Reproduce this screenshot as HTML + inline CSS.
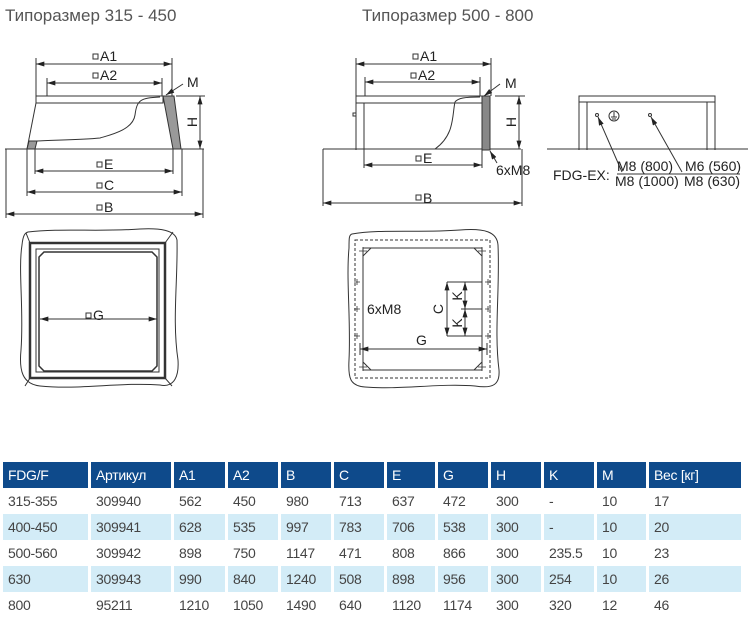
<!DOCTYPE html>
<html><head><meta charset="utf-8"><style>
body{margin:0;background:#fff;width:751px;height:628px;overflow:hidden;font-family:"Liberation Sans",sans-serif}
svg{position:absolute;left:0;top:0}
table{position:absolute;left:3px;top:462px;border-collapse:separate;border-spacing:0;font-family:"Liberation Sans Narrow","Liberation Sans",sans-serif;font-size:14px;color:#444}
td{height:26px;padding:0 0 0 5px;box-sizing:border-box;border-right:3px solid #fff;white-space:nowrap;letter-spacing:-0.3px}
tr.h td{background:#0e4a8b;color:#fff;height:26px}
tr.b td{background:#d3ecf7}
</style></head><body>
<svg width="751" height="460" viewBox="0 0 751 460" font-family="Liberation Sans, sans-serif">
<defs><marker id="a" viewBox="0 0 10 6" refX="10" refY="3" markerWidth="9" markerHeight="5" orient="auto-start-reverse"><path d="M0,0L10,3L0,6z" fill="#222"/></marker></defs>
<g fill="#555" font-size="17"><text x="5" y="21">Типоразмер 315 - 450</text><text x="362" y="21">Типоразмер 500 - 800</text></g>
<g stroke="#333" stroke-width="1" fill="none">
<line x1="5" y1="149" x2="204" y2="149"/>
<rect x="36" y="96" width="127" height="7"/>
<path d="M36,103L27,149"/>
<path d="M163,96L174,96L181,149L173,149Z" fill="#999"/>
<path d="M27,149L35,149L37,141L29,141Z" fill="#999"/>
<path d="M160,97C140,98 137,100 135,115C133,130 110,135 100,138C80,140 50,140 37,141"/>
<line x1="36" y1="58" x2="36" y2="96"/><line x1="172" y1="58" x2="172" y2="96"/>
<line x1="47" y1="78" x2="47" y2="96"/><line x1="162" y1="78" x2="162" y2="96"/>
<line x1="36" y1="64" x2="172" y2="64" marker-start="url(#a)" marker-end="url(#a)"/>
<line x1="47" y1="83" x2="162" y2="83" marker-start="url(#a)" marker-end="url(#a)"/>
<line x1="176" y1="96" x2="205" y2="96"/>
<line x1="200" y1="96" x2="200" y2="149" marker-start="url(#a)" marker-end="url(#a)"/>
<line x1="183" y1="84" x2="166" y2="95" marker-end="url(#a)"/>
<line x1="27" y1="149" x2="27" y2="196"/><line x1="35" y1="149" x2="35" y2="174"/>
<line x1="173" y1="149" x2="173" y2="174"/><line x1="182" y1="149" x2="182" y2="196"/>
<line x1="6" y1="149" x2="6" y2="218"/><line x1="203" y1="149" x2="203" y2="218"/>
<line x1="35" y1="171" x2="173" y2="171" marker-start="url(#a)" marker-end="url(#a)"/>
<line x1="27" y1="192" x2="182" y2="192" marker-start="url(#a)" marker-end="url(#a)"/>
<line x1="6" y1="214" x2="203" y2="214" marker-start="url(#a)" marker-end="url(#a)"/>
<line x1="323" y1="149" x2="521" y2="149"/>
<rect x="356" y="96" width="126" height="7"/>
<path d="M356,103V150M364,103V150"/>
<rect x="353" y="113" width="3" height="3"/>
<rect x="482" y="96" width="8" height="54" fill="#888"/>
<path d="M480,97C465,97 458,98 455,102C452,115 455,135 435,149"/>
<line x1="356" y1="58" x2="356" y2="96"/><line x1="491" y1="58" x2="491" y2="96"/>
<line x1="365" y1="77" x2="365" y2="96"/><line x1="480" y1="77" x2="480" y2="96"/>
<line x1="356" y1="64" x2="491" y2="64" marker-start="url(#a)" marker-end="url(#a)"/>
<line x1="365" y1="82" x2="480" y2="82" marker-start="url(#a)" marker-end="url(#a)"/>
<line x1="495" y1="96" x2="525" y2="96"/>
<line x1="519" y1="96" x2="519" y2="149" marker-start="url(#a)" marker-end="url(#a)"/>
<line x1="500" y1="84" x2="484" y2="96" marker-end="url(#a)"/>
<line x1="364" y1="149" x2="364" y2="168"/><line x1="482" y1="149" x2="482" y2="168"/>
<line x1="364" y1="165" x2="482" y2="165" marker-start="url(#a)" marker-end="url(#a)"/>
<line x1="497" y1="163" x2="490" y2="151" marker-end="url(#a)"/>
<line x1="323" y1="149" x2="323" y2="206"/><line x1="522" y1="149" x2="522" y2="206"/>
<line x1="323" y1="203" x2="522" y2="203" marker-start="url(#a)" marker-end="url(#a)"/>
<line x1="547" y1="149" x2="748" y2="149"/>
<rect x="579" y="96" width="136" height="6"/>
<path d="M579,102V150M587,102V150M707,102V150M715,102V150"/>
<circle cx="597" cy="115" r="1.5"/><circle cx="650" cy="115" r="1.5"/>
<circle cx="614" cy="116" r="5"/><path d="M614,112V117M611,117H617M612,119H616"/>
<line x1="622" y1="172" x2="598" y2="117" marker-end="url(#a)"/>
<line x1="682" y1="172" x2="651" y2="117" marker-end="url(#a)"/>
<line x1="617" y1="174" x2="740" y2="174"/>
<path d="M28,232C60,228 100,232 140,229C160,228 175,230 177,240C178,280 172,320 178,360C179,375 175,388 160,385C120,382 80,390 40,386C22,384 19,370 21,350C24,310 18,270 22,245C23,235 25,233 28,232Z"/>
<rect x="30" y="243" width="135" height="135" stroke-width="2.5"/>
<rect x="36" y="249" width="123" height="123"/>
<path d="M44,252H152L157,257V366L152,371H44L39,366V257Z" stroke-width="1.5"/>
<path d="M30,243L26,233M165,243L173,232M30,378L25,386M165,378L172,386"/>
<line x1="40" y1="319" x2="157" y2="319" marker-start="url(#a)" marker-end="url(#a)"/>
<path d="M352,234C380,229 420,233 460,230C485,228 497,232 498,245C500,290 494,330 499,370C500,384 494,389 475,386C440,383 400,390 365,387C350,386 348,378 349,360C351,320 346,280 349,248C349,238 349,235 352,234Z"/>
<rect x="355" y="240" width="135" height="138" stroke-dasharray="3,2"/>
<rect x="363" y="248" width="119" height="122"/>
<path d="M363,256L371,248M474,248L482,256M363,362L371,370M474,370L482,362"/>
<g stroke-width="0.8"><path d="M359,251h8M363,247v8M478,251h8M482,247v8M359,367h8M363,363v8M478,367h8M482,363v8M354,282h6M357,279v6M354,309h6M357,306v6M354,336h6M357,333v6M485,282h6M488,279v6M485,309h6M488,306v6M485,336h6M488,333v6"/></g>
<path d="M447,282H482M461,309H482M447,336H482"/>
<line x1="447" y1="282" x2="447" y2="336" marker-start="url(#a)" marker-end="url(#a)"/>
<line x1="465" y1="282" x2="465" y2="309" marker-start="url(#a)" marker-end="url(#a)"/>
<line x1="465" y1="309" x2="465" y2="336" marker-start="url(#a)" marker-end="url(#a)"/>
<line x1="360" y1="343" x2="360" y2="355"/><line x1="487" y1="343" x2="487" y2="355"/>
<line x1="360" y1="349" x2="487" y2="349" marker-start="url(#a)" marker-end="url(#a)"/>
</g>
<g fill="#222" font-size="14">
<rect x="93" y="54" width="5" height="5" fill="none" stroke="#333"/><text x="100" y="61">A1</text>
<rect x="93" y="73" width="5" height="5" fill="none" stroke="#333"/><text x="100" y="80">A2</text>
<text x="187" y="87">M</text>
<text transform="translate(197,122) rotate(-90)" text-anchor="middle">H</text>
<rect x="97" y="162" width="5" height="5" fill="none" stroke="#333"/><text x="104" y="169">E</text>
<rect x="97" y="183" width="5" height="5" fill="none" stroke="#333"/><text x="104" y="190">C</text>
<rect x="97" y="205" width="5" height="5" fill="none" stroke="#333"/><text x="104" y="212">B</text>
<rect x="413" y="54" width="5" height="5" fill="none" stroke="#333"/><text x="420" y="61">A1</text>
<rect x="411" y="73" width="5" height="5" fill="none" stroke="#333"/><text x="418" y="80">A2</text>
<text x="505" y="88">M</text>
<text transform="translate(516,122) rotate(-90)" text-anchor="middle">H</text>
<rect x="416" y="156" width="5" height="5" fill="none" stroke="#333"/><text x="423" y="163">E</text>
<text x="496" y="175">6xM8</text>
<rect x="416" y="195" width="5" height="5" fill="none" stroke="#333"/><text x="423" y="203">B</text>
<text x="553" y="180">FDG-EX:</text>
<text x="617" y="171">M8 (800)</text><text x="615" y="186">M8 (1000)</text>
<text x="685" y="171">M6 (560)</text><text x="684" y="186">M8 (630)</text>
<rect x="86" y="313" width="5" height="5" fill="none" stroke="#333"/><text x="93" y="320">G</text>
<text x="367" y="314">6xM8</text>
<text x="416" y="345">G</text>
<text transform="translate(443,309) rotate(-90)" text-anchor="middle">C</text>
<text transform="translate(462,296) rotate(-90)" text-anchor="middle">K</text>
<text transform="translate(462,323) rotate(-90)" text-anchor="middle">K</text>
</g>
</svg>
<table>
<colgroup><col style="width:88px"><col style="width:83px"><col style="width:54px"><col style="width:53px"><col style="width:53px"><col style="width:53px"><col style="width:51px"><col style="width:53px"><col style="width:53px"><col style="width:53px"><col style="width:52px"><col style="width:95px"></colgroup>
<tr class="h"><td>FDG/F</td><td>Артикул</td><td>A1</td><td>A2</td><td>B</td><td>C</td><td>E</td><td>G</td><td>H</td><td>K</td><td>M</td><td>Вес [кг]</td></tr>
<tr><td>315-355</td><td>309940</td><td>562</td><td>450</td><td>980</td><td>713</td><td>637</td><td>472</td><td>300</td><td>-</td><td>10</td><td>17</td></tr>
<tr class="b"><td>400-450</td><td>309941</td><td>628</td><td>535</td><td>997</td><td>783</td><td>706</td><td>538</td><td>300</td><td>-</td><td>10</td><td>20</td></tr>
<tr><td>500-560</td><td>309942</td><td>898</td><td>750</td><td>1147</td><td>471</td><td>808</td><td>866</td><td>300</td><td>235.5</td><td>10</td><td>23</td></tr>
<tr class="b"><td>630</td><td>309943</td><td>990</td><td>840</td><td>1240</td><td>508</td><td>898</td><td>956</td><td>300</td><td>254</td><td>10</td><td>26</td></tr>
<tr><td>800</td><td>95211</td><td>1210</td><td>1050</td><td>1490</td><td>640</td><td>1120</td><td>1174</td><td>300</td><td>320</td><td>12</td><td>46</td></tr>
</table>
</body></html>
